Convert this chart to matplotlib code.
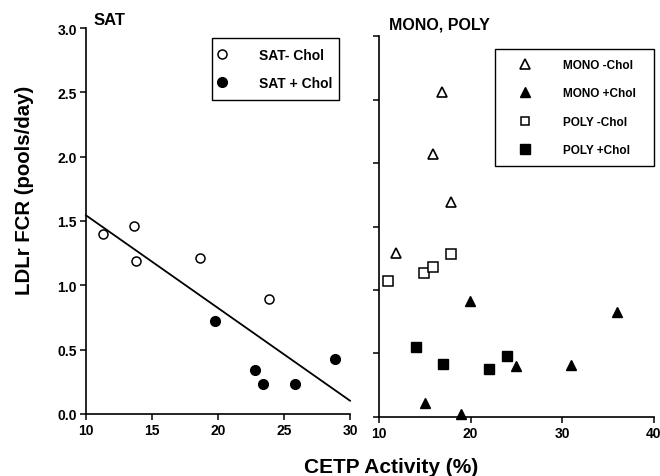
import numpy as np
import matplotlib
matplotlib.use("Agg")
import matplotlib.pyplot as plt
from matplotlib.lines import Line2D

plt.rcParams['font.family'] = ['Liberation Sans', 'DejaVu Sans']
plt.rcParams['font.weight'] = 'bold'

# SAT panel
sat_minus_x = [11.3, 13.6, 13.8, 18.6, 23.9]
sat_minus_y = [1.40, 1.46, 1.19, 1.21, 0.89]
sat_plus_x = [19.8, 22.8, 23.4, 25.8, 28.9]
sat_plus_y = [0.72, 0.34, 0.23, 0.23, 0.43]

# MONO, POLY panel
mono_minus_x = [16.9, 15.9, 17.9, 11.9]
mono_minus_y = [2.56, 2.07, 1.69, 1.29]
mono_plus_x = [19.9, 15.0, 19.0, 25.0, 31.0, 36.0]
mono_plus_y = [0.91, 0.11, 0.02, 0.40, 0.41, 0.83]
poly_minus_x = [10.95, 14.9, 15.9, 17.9]
poly_minus_y = [1.07, 1.13, 1.18, 1.28]
poly_plus_x = [14.0, 17.0, 22.0, 24.0]
poly_plus_y = [0.55, 0.42, 0.38, 0.48]

sat_xticks = [10, 15, 20, 25, 30]
mp_xticks = [10, 20, 30, 40]
yticks = [0, 0.5, 1.0, 1.5, 2.0, 2.5, 3.0]

fig = plt.figure(figsize=(6.6, 4.77), dpi=100)
ax1 = fig.add_axes([0.1303, 0.13, 0.4, 0.8092])
ax2 = fig.add_axes([0.5742, 0.1237, 0.4167, 0.7987])

for ax in (ax1, ax2):
    ax.spines['top'].set_visible(False)
    ax.spines['right'].set_visible(False)
    ax.spines['left'].set_linewidth(1.2)
    ax.spines['bottom'].set_linewidth(1.2)
    ax.tick_params(length=4, width=1.1, pad=2.5)

ms = 6.5
# regression line through all SAT points
all_x = np.array(sat_minus_x + sat_plus_x)
all_y = np.array(sat_minus_y + sat_plus_y)
slope, icpt = np.polyfit(all_x, all_y, 1)
xl = np.array([10, 30])
ax1.plot(xl, slope * xl + icpt, color='black', lw=1.3, clip_on=False)

ax1.plot(sat_minus_x, sat_minus_y, 'o', ms=ms, mfc='white', mec='black', mew=1.1, ls='none', clip_on=False)
ax1.plot(sat_plus_x, sat_plus_y, 'o', ms=ms + 0.5, mfc='black', mec='black', ls='none', clip_on=False)
ax1.set_xlim(10, 30)
ax1.set_ylim(0, 3)
ax1.set_xticks(sat_xticks)
ax1.set_xticklabels([str(t) for t in sat_xticks], fontsize=10, fontweight='bold')
ax1.set_yticks(yticks)
ax1.set_yticklabels(['%.1f' % t for t in yticks], fontsize=10, fontweight='bold')

h1 = [Line2D([], [], marker='o', ls='none', ms=ms, mfc='white', mec='black', mew=1.1),
      Line2D([], [], marker='o', ls='none', ms=ms + 0.5, mfc='black', mec='black')]
leg1 = ax1.legend(h1, ['SAT- Chol', 'SAT + Chol'], loc='upper left',
                  bbox_to_anchor=(0.477, 0.819, 0.481, 0.155), mode='expand',
                  borderaxespad=0, fancybox=False, edgecolor='black', framealpha=1,
                  prop={'size': 10, 'weight': 'bold'}, handlelength=0.1,
                  handletextpad=2.6, borderpad=0.7, labelspacing=1.05)
leg1.get_frame().set_linewidth(1.0)

ax2.plot(mono_minus_x, mono_minus_y, '^', ms=ms, mfc='white', mec='black', mew=1.2, ls='none', clip_on=False)
ax2.plot(mono_plus_x, mono_plus_y, '^', ms=ms + 0.5, mfc='black', mec='black', ls='none', clip_on=False)
ax2.plot(poly_minus_x, poly_minus_y, 's', ms=ms, mfc='white', mec='black', mew=1.1, ls='none', clip_on=False)
ax2.plot(poly_plus_x, poly_plus_y, 's', ms=ms + 0.8, mfc='black', mec='black', ls='none', clip_on=False)
ax2.set_xlim(10, 40)
ax2.set_ylim(0, 3)
ax2.set_xticks(mp_xticks)
ax2.set_xticklabels([str(t) for t in mp_xticks], fontsize=10, fontweight='bold')
ax2.set_yticks(yticks)
ax2.set_yticklabels([])

h2 = [Line2D([], [], marker='^', ls='none', ms=ms, mfc='white', mec='black', mew=1.2),
      Line2D([], [], marker='^', ls='none', ms=ms, mfc='black', mec='black'),
      Line2D([], [], marker='s', ls='none', ms=ms - 0.3, mfc='white', mec='black', mew=1.1),
      Line2D([], [], marker='s', ls='none', ms=ms, mfc='black', mec='black')]
leg2 = ax2.legend(h2, ['MONO -Chol', 'MONO +Chol', 'POLY -Chol', 'POLY +Chol'], loc='upper left',
                  bbox_to_anchor=(0.4218, 0.6615, 0.578, 0.3045), mode='expand',
                  borderaxespad=0, fancybox=False, edgecolor='black', framealpha=1,
                  prop={'size': 8.5, 'weight': 'bold'}, handlelength=3.4,
                  handletextpad=1.52, borderpad=0.85, labelspacing=1.39)
leg2.get_frame().set_linewidth(1.0)

fig.text(94 / 660, 1 - 25 / 477, 'SAT', fontsize=12, fontweight='bold', ha='left', va='baseline')
fig.text(389 / 660, 1 - 30 / 477, 'MONO, POLY', fontsize=11.5, fontweight='bold', ha='left', va='baseline')
fig.text(391 / 660, 1 - 473 / 477, 'CETP Activity (%)', fontsize=15, fontweight='bold', ha='center', va='baseline')
fig.text(25 / 660, 1 - 190 / 477, 'LDLr FCR (pools/day)', fontsize=14.7, fontweight='bold',
         ha='center', va='center', rotation=90)

fig.savefig('out.png', dpi=100)
